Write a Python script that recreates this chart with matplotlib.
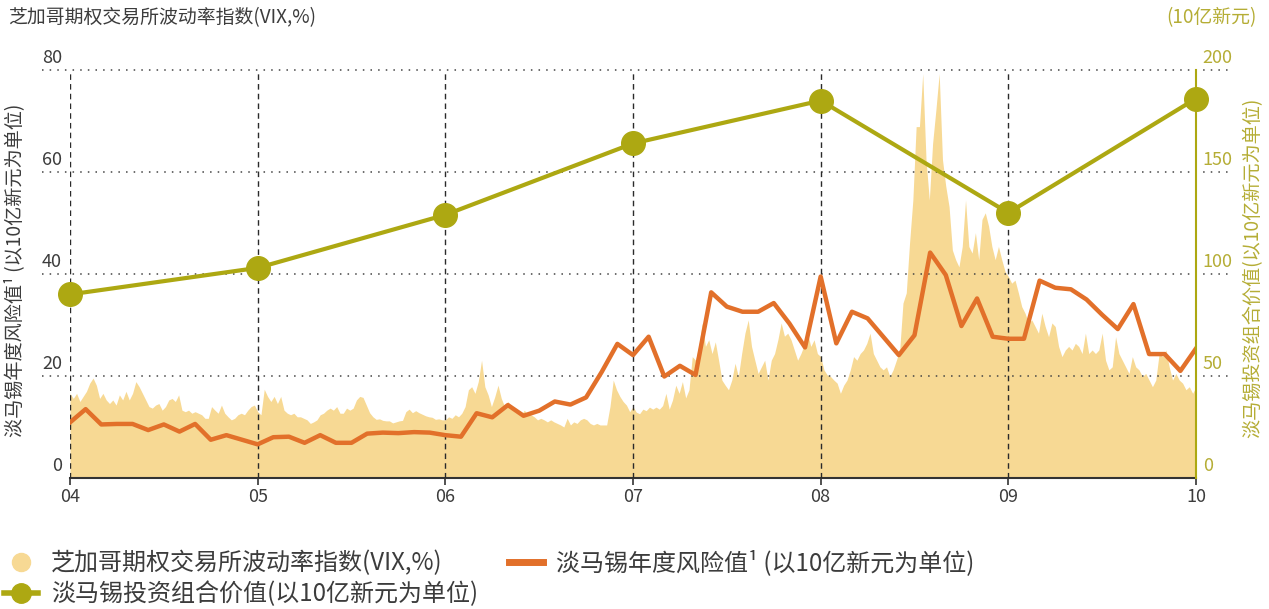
import numpy as np
import matplotlib.pyplot as plt
from matplotlib.lines import Line2D
from matplotlib.transforms import blended_transform_factory, offset_copy

plt.rcParams['font.family'] = ['Noto Sans CJK SC', 'DejaVu Sans']

YELLOW = '#F7D994'
ORANGE = '#E2702A'
OLIVE = '#ADA812'
OLIVE_TXT = '#B5AD35'
GREY = '#3c3c3c'

# fiscal years on the x axis
years = [4, 5, 6, 7, 8, 9, 10]
year_labels = ['04', '05', '06', '07', '08', '09', '10']

# portfolio value, S$ bn (right axis)
portfolio = [90, 103, 129, 164, 185, 130, 186]

# annual value-at-risk, S$ bn, monthly points (left axis)
var_monthly = [10.9, 13.5, 10.5, 10.6, 10.6, 9.4, 10.5, 9.1, 10.6, 7.5, 8.4, 7.5,
               6.6, 8.0, 8.1, 6.9, 8.4, 6.9, 6.9, 8.7, 8.9, 8.8, 9.0, 8.9,
               8.4, 8.1, 12.7, 11.9, 14.3, 12.2, 13.2, 15.0, 14.4, 15.8, 20.8, 26.3,
               24.1, 27.7, 19.9, 22.0, 20.2, 36.4, 33.6, 32.6, 32.6, 34.3, 30.3, 25.6,
               39.5, 26.4, 32.6, 31.3, 27.7, 24.1, 28.0, 44.2, 39.8, 29.8, 35.2, 27.7,
               27.3, 27.3, 38.7, 37.3, 37.0, 35.0, 32.0, 29.2, 34.1, 24.3, 24.3, 21.0,
               25.4]

# CBOE VIX, roughly weekly readings per fiscal year
vix_04 = [16.6, 15.6, 16.6, 15.0, 16.0, 17.0, 18.6, 19.6, 18.2, 15.6, 16.6, 15.3, 14.6, 15.3, 14.3,
          16.3, 15.3, 17.0, 15.3, 16.6, 18.9, 17.9, 16.6, 15.3, 14.0, 13.7, 14.3, 14.6, 13.3, 14.0,
          15.3, 15.6, 15.0, 16.3, 13.3, 13.0, 13.3, 12.7, 13.0, 12.7, 12.4, 11.7, 11.7, 14.0, 13.3,
          12.7, 14.3, 12.7, 12.0, 11.4, 11.7, 12.4, 12.7, 12.4, 13.3, 14.0, 14.3]
vix_05 = [13.0, 12.4, 17.4, 16.0, 15.0, 16.0, 14.6, 16.0, 13.3, 12.7, 12.4, 12.7, 12.0, 12.0, 11.7,
          11.4, 10.7, 11.0, 11.4, 12.4, 12.7, 13.3, 13.7, 13.3, 14.0, 12.7, 12.7, 13.7, 13.3, 13.7,
          15.3, 16.0, 15.8, 14.3, 12.8, 12.0, 11.5, 11.6, 11.3, 11.2, 11.2, 10.8, 11.0, 11.2, 11.3,
          13.0, 13.5, 12.8, 13.2, 12.8, 12.5, 12.2, 12.0, 11.9, 11.5, 11.6, 11.4]
vix_06 = [11.4, 12.0, 11.7, 12.4, 12.0, 12.7, 14.0, 17.3, 17.9, 16.6, 18.9, 23.1, 17.9, 16.3, 14.0,
          15.9, 18.2, 15.6, 14.0, 15.0, 14.0, 13.0, 12.7, 12.4, 13.3, 12.4, 12.4, 12.0, 11.4, 11.7,
          11.4, 11.0, 11.4, 11.0, 10.7, 10.4, 10.0, 11.7, 10.4, 11.0, 10.7, 11.4, 11.7, 11.4, 10.7,
          10.4, 10.7, 10.4, 10.4, 10.4, 14.0, 19.2, 17.3, 16.0, 15.0, 14.3, 13.0]
vix_07 = [14.0, 12.9, 12.6, 13.5, 13.2, 13.9, 13.5, 13.9, 13.5, 14.2, 16.6, 13.5, 15.3, 18.2, 16.6,
          18.9, 15.7, 17.3, 23.8, 23.1, 25.8, 30.4, 25.8, 27.1, 24.4, 26.7, 23.1, 19.2, 18.2, 17.3,
          19.2, 22.5, 19.9, 24.4, 28.4, 31.0, 25.8, 23.1, 20.5, 21.8, 23.1, 19.2, 23.1, 24.4, 27.1,
          30.4, 27.8, 28.4, 27.1, 25.1, 23.1, 24.4, 26.1, 28.4, 25.8, 27.1, 24.4]
vix_08 = [23.8, 21.2, 20.2, 19.9, 19.2, 18.6, 16.6, 18.2, 19.2, 21.2, 23.8, 23.1, 24.4, 25.1, 26.4,
          28.4, 24.4, 23.1, 21.8, 21.2, 21.8, 19.9, 21.2, 23.1, 25.1, 34.3, 36.3, 46.1, 54.5, 68.9,
          68.9, 79.3, 62.4, 54.5, 65.6, 72.2, 79.3, 62.4, 57.2, 53.2, 44.7, 42.8, 41.4, 45.4, 54.5,
          45.4, 44.1, 48.1, 42.8, 50.7, 52.0, 49.4, 45.4, 42.8, 45.4, 42.8, 40.5]
vix_09 = [39.5, 38.2, 38.8, 36.3, 33.6, 32.3, 30.4, 31.0, 29.7, 28.4, 32.3, 29.7, 27.7, 30.4, 29.7,
          25.8, 23.8, 25.1, 25.8, 25.1, 26.4, 25.8, 24.4, 28.4, 24.4, 25.1, 24.4, 25.1, 28.4, 23.1,
          21.2, 21.8, 27.7, 24.4, 23.1, 21.8, 20.5, 23.8, 21.8, 21.2, 19.9, 20.5, 19.2, 17.9, 19.2,
          24.4, 23.8, 25.1, 21.8, 19.2, 20.5, 19.2, 18.6, 17.3, 17.9, 16.6, 17.9]

vix_years = [vix_04, vix_05, vix_06, vix_07, vix_08, vix_09]
vix_x, vix_y = [], []
for yr, vals in zip(years[:-1], vix_years):
    vix_x.append(np.linspace(yr, yr + 1, len(vals), endpoint=(yr == 9)))
    vix_y.append(vals)
vix_x = np.concatenate(vix_x)
vix_y = np.concatenate(vix_y)
var_x = np.linspace(years[0], years[-1], len(var_monthly))

fig = plt.figure(figsize=(12.69, 6.09), dpi=100)
ax = fig.add_axes([70 / 1269, 131 / 609, 1126 / 1269, 408 / 609])

ax.fill_between(vix_x, vix_y, color=YELLOW, lw=0, zorder=1)
ax.plot(var_x, var_monthly, color=ORANGE, lw=3.2, zorder=5)

blend = blended_transform_factory(ax.transAxes, ax.transData)
for v in [20, 40, 60, 80]:
    ax.plot([-0.025, 1.033], [v, v], transform=blend, ls=(0, (1, 4)), color='#444',
            lw=1.1, clip_on=False, zorder=3)
for yr in years[:-1]:
    ax.axvline(yr, 0, 1, ls=(0, (4, 3)), color='#2a2a2a', lw=1, zorder=3)

ax.set_xlim(4, 10)
ax.set_ylim(0, 80)
for s in ['left', 'top', 'right']:
    ax.spines[s].set_visible(False)
ax.spines['bottom'].set_color('#333')
ax.spines['bottom'].set_linewidth(1.5)
ax.set_xticks(years)
ax.set_xticklabels(year_labels)
ax.tick_params(axis='x', direction='out', length=5, width=1.2, color='#333',
               labelsize=13, labelcolor=GREY, pad=2)
ax.set_yticks([])

lbl_tr = offset_copy(blend, fig, x=0, y=5, units='points')
for v in [0, 20, 40, 60, 80]:
    ax.text(-0.007, v, str(v), transform=lbl_tr, ha='right', va='baseline',
            fontsize=13, color=GREY)

ax2 = ax.twinx()
ax2.set_ylim(0, 200)
for s in ['left', 'top', 'bottom']:
    ax2.spines[s].set_visible(False)
ax2.spines['right'].set_color(OLIVE)
ax2.spines['right'].set_linewidth(1.5)
ax2.set_yticks([])
blend2 = blended_transform_factory(ax2.transAxes, ax2.transData)
lbl_tr2 = offset_copy(blend2, fig, x=0, y=5, units='points')
for v in [0, 50, 100, 150, 200]:
    ax2.text(1.006, v, str(v), transform=lbl_tr2, ha='left', va='baseline',
             fontsize=13, color=OLIVE_TXT)
ax2.plot(years, portfolio, color=OLIVE, lw=3, marker='o', ms=17, zorder=6, clip_on=False)

fig.text(8 / 1269, 1 - 18 / 609, '芝加哥期权交易所波动率指数(VIX,%)', ha='left', va='center',
         fontsize=13.6, color=GREY)
fig.text(1257 / 1269, 1 - 18 / 609, '(10亿新元)', ha='right', va='center',
         fontsize=13.6, color=OLIVE_TXT)
fig.text(15 / 1269, 1 - 270 / 609, '淡马锡年度风险值¹ (以10亿新元为单位)', rotation=90,
         ha='center', va='center', fontsize=13.8, color=GREY)
fig.text(1253 / 1269, 1 - 268 / 609, '淡马锡投资组合价值(以10亿新元为单位)', rotation=90,
         ha='center', va='center', fontsize=13.8, color=OLIVE_TXT)

h_vix = Line2D([], [], ls='none', marker='o', ms=13, mfc=YELLOW, mec=YELLOW)
h_var = Line2D([], [], color=ORANGE, lw=5)
h_port = Line2D([], [], color=OLIVE, lw=4, marker='o', ms=14)
leg = fig.legend([h_vix, h_port, h_var],
                 ['芝加哥期权交易所波动率指数(VIX,%)', '淡马锡投资组合价值(以10亿新元为单位)',
                  '淡马锡年度风险值¹ (以10亿新元为单位)'],
                 ncol=2, loc='upper left', bbox_to_anchor=(4 / 1269, 1 - 550 / 609),
                 frameon=False, fontsize=17.3, handlelength=1.4, handletextpad=0.55,
                 columnspacing=1.3, labelspacing=0.22, borderaxespad=0, borderpad=0)
for t in leg.get_texts():
    t.set_color(GREY)

fig.savefig('out.png', dpi=100)
